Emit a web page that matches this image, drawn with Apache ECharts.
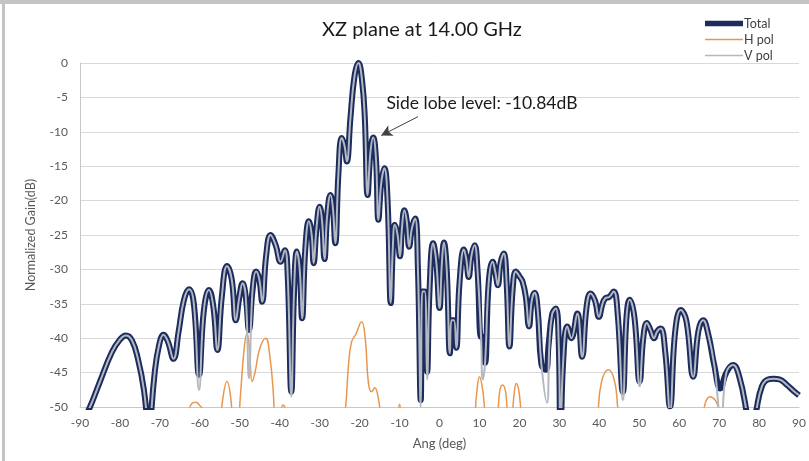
<!DOCTYPE html>
<html>
<head>
<meta charset="utf-8">
<script src="https://cdn.jsdelivr.net/npm/echarts@6/dist/echarts.min.js"></script>
<style>
  html, body { margin: 0; padding: 0; background: #fff; }
  #chart { width: 809px; height: 461px; }
</style>
</head>
<body>
<div id="chart"></div>
<script>
// Radiation pattern cut, XZ plane at 14 GHz: [angle (deg), normalized gain (dB)]
const totalGain = [
  [-90,-53],[-87.5,-50],[-85,-46.3],[-82,-42],[-80,-40.2],[-78.5,-39.6],[-77,-40.3],[-75.5,-43],[-74,-47.5],[-73.1,-53],[-72.8,-57],
  [-72.3,-52],[-71.3,-45],[-70.2,-41],[-69.1,-39.5],[-68,-40.5],[-66.6,-43],[-65.3,-39],[-64,-34.5],[-62.7,-32.9],[-61.5,-35],
  [-60.2,-45.3],[-59,-36],[-57.7,-33],[-56.6,-35.5],[-55.6,-41.7],[-54.5,-34],[-53.2,-29.5],[-52,-31.5],[-51,-37.4],[-50.1,-34],
  [-49.3,-32],[-48.5,-34],[-47.7,-38.8],[-46.8,-33],[-45.9,-30.3],[-45.1,-31.5],[-44.4,-34.7],[-43.4,-28],[-42.3,-25],[-41,-26.5],
  [-39.8,-28.9],[-38.7,-27.2],[-38,-31],[-37.1,-47.8],[-36.4,-33],[-35.7,-27.4],[-35,-30],[-34.4,-37.1],[-33.6,-27],[-32.7,-23],
  [-32,-25],[-31.5,-29.1],[-30.8,-24],[-30,-20.9],[-29.4,-23],[-28.8,-28.5],[-28.1,-22],[-27.3,-19.2],[-26.7,-21],[-26.1,-26.2],
  [-25.3,-16],[-24.5,-10.9],[-23.8,-12],[-23.2,-14.3],[-22.3,-8],[-21.3,-2],[-20.3,0],[-19.4,-2.5],[-18.7,-8],[-18,-19.2],
  [-17.3,-13],[-16.6,-10.84],[-15.9,-14],[-15.3,-22.8],[-14.6,-17.5],[-13.8,-15.3],[-13,-20],[-12.2,-34.9],[-11.7,-27],[-11.2,-23.5],
  [-10.5,-25],[-9.9,-28.1],[-9.4,-24],[-8.8,-21.4],[-8.2,-23],[-7.6,-26.7],[-6.9,-24],[-6.1,-22.6],[-5.4,-30],[-4.7,-49],
  [-4.3,-33.2],[-3.7,-33.2],[-3.1,-44.9],[-2.5,-33],[-1.6,-26.2],[-0.8,-29],[0,-35.6],[0.6,-29],[1.1,-26.1],[1.8,-30],
  [2.6,-42.2],[3.0,-37.4],[3.6,-37.4],[4.2,-41.4],[5,-32],[6.1,-27.1],[6.7,-28.5],[7.3,-31.1],[8,-28],[8.8,-26.5],
  [9.5,-30],[10.4,-39.8],[10.8,-39.8],[11.4,-43.6],[12.3,-32],[13.3,-28.9],[14,-30.5],[14.6,-32.3],[15.3,-29],[16.1,-27.7],
  [16.8,-32],[17.5,-41.2],[18.3,-33],[19.1,-30.3],[20,-31],[20.8,-31.8],[21.6,-34],[22.4,-38.3],[23.1,-34.5],[23.8,-33.4],
  [24.6,-36],[25.5,-43.8],[26.6,-44.6],[27.3,-41],[28.2,-36.5],[29.1,-35.7],[29.8,-40],[30.3,-55],[30.9,-44],[32,-38.3],
  [33,-40],[34.5,-36.4],[35.7,-42.7],[36.8,-35.5],[37.8,-33.5],[38.9,-34.5],[39.9,-36.9],[40.8,-35],[41.5,-34.2],[42.5,-34],
  [43.6,-33.2],[44.6,-36.5],[45.9,-47.8],[46.8,-37],[47.6,-34.4],[48.8,-37],[50.1,-46.3],[51,-40],[51.9,-37.8],[52.8,-38.8],
  [53.7,-40],[54.5,-39],[55.4,-38.6],[56.5,-42],[57.7,-49.9],[59,-39],[60.4,-35.9],[61.8,-37.5],[63.5,-45.6],[64.8,-39],
  [66,-37.4],[67.3,-39.5],[68.8,-44],[70.3,-47.3],[71.8,-45],[73.5,-43.9],[75,-45.5],[76.8,-50.5],[77.8,-55],[79.3,-50.5],
  [80.7,-47],[82.2,-46],[83.6,-45.9],[85.1,-46],[87,-46.8],[88.5,-47.6],[90,-48.3]
];

const hPolGain = [
  [-90,-62],[-66,-62],[-63,-51],[-62,-49.5],[-61,-49.3],[-60,-49.8],[-59.2,-50.5],[-58,-58],[-56,-60],[-55,-54],
  [-54.3,-49],[-53.2,-46.3],[-52.2,-49],[-51.5,-55],[-50.5,-53],[-49.8,-48],[-48.9,-41.5],[-48.2,-39.3],[-47.6,-41.5],[-46.9,-46.3],
  [-46.2,-45],[-45,-41.5],[-43.5,-40],[-42.5,-42.5],[-41.6,-48],[-41,-55],[-40,-52],[-39.2,-49.7],[-38.5,-50.5],[-37,-56],
  [-30,-60],[-25,-57],[-23.5,-50],[-22.8,-44],[-22,-40.5],[-21,-39.5],[-19.5,-37.6],[-18.6,-40],[-17.8,-46.5],[-17,-47.8],
  [-16.2,-47.2],[-15.4,-48.5],[-14.8,-51],[-14,-58],[-11,-55],[-10,-49.6],[-9,-55],[-5,-60],[5,-60],[8.6,-52],
  [9.3,-48],[10,-45.6],[10.8,-47.5],[11.4,-51],[12.5,-57],[14,-56],[15,-48],[15.8,-46.8],[16.6,-48],[17.3,-53],
  [18,-52],[18.7,-48],[19.2,-46.6],[19.9,-47.8],[20.6,-52],[22,-58],[30,-58],[31.5,-50.6],[32.5,-50.5],[33.5,-56],
  [38,-58],[39.5,-52],[40.5,-46.5],[42.3,-44.6],[43.8,-46.2],[44.6,-50],[46,-58],[60,-58],[65.5,-53],[66.5,-49.5],
  [67.7,-48.5],[69,-49],[70,-50.5],[71,-55],[90,-60]
];

const vPolGain = [
  [-90,-53],[-87.5,-50],[-85,-46.3],[-82,-42],[-80,-40.2],[-78.5,-39.6],[-77,-40.3],[-75.5,-43],[-74,-47.5],[-73.1,-53],[-72.8,-57],
  [-72.3,-52],[-71.3,-45],[-70.2,-41],[-69.1,-39.5],[-68,-40.5],[-66.6,-43],[-65.3,-39],[-64,-34.5],[-62.7,-32.9],[-61.5,-35],
  [-60.2,-47.5],[-59,-36],[-57.7,-33],[-56.6,-35.5],[-55.6,-41.7],[-54.5,-34],[-53.2,-29.5],[-52,-31.5],[-51,-37.4],[-50.1,-34],
  [-49.3,-32],[-48.5,-34],[-47.7,-45.8],[-46.8,-33],[-45.9,-30.3],[-45.1,-31.5],[-44.4,-34.7],[-43.4,-28],[-42.3,-25],[-41,-26.5],
  [-39.8,-28.9],[-38.7,-27.2],[-38,-31],[-37.1,-48.5],[-36.4,-33],[-35.7,-27.4],[-35,-30],[-34.4,-37.1],[-33.6,-27],[-32.7,-23],
  [-32,-25],[-31.5,-29.1],[-30.8,-24],[-30,-20.9],[-29.4,-23],[-28.8,-28.5],[-28.1,-22],[-27.3,-19.2],[-26.7,-21],[-26.1,-26.2],
  [-25.3,-16],[-24.5,-10.9],[-23.8,-12],[-23.2,-14.3],[-22.3,-8],[-21.3,-2],[-20.3,0],[-19.4,-2.5],[-18.7,-8],[-18,-19.2],
  [-17.3,-13],[-16.6,-10.84],[-15.9,-14],[-15.3,-22.8],[-14.6,-17.5],[-13.8,-15.3],[-13,-20],[-12.2,-34.9],[-11.7,-27],[-11.2,-23.5],
  [-10.5,-25],[-9.9,-28.1],[-9.4,-24],[-8.8,-21.4],[-8.2,-23],[-7.6,-26.7],[-6.9,-24],[-6.1,-22.6],[-5.4,-30],[-4.7,-50],
  [-4.3,-33.2],[-3.7,-33.2],[-3.1,-46],[-2.5,-33],[-1.6,-26.2],[-0.8,-29],[0,-35.6],[0.6,-29],[1.1,-26.1],[1.8,-30],
  [2.6,-42.2],[3.0,-37.4],[3.6,-37.4],[4.2,-41.4],[5,-32],[6.1,-27.1],[6.7,-28.5],[7.3,-31.1],[8,-28],[8.8,-26.5],
  [9.5,-30],[10.4,-39.8],[10.8,-46],[11.4,-43.6],[12.3,-32],[13.3,-28.9],[14,-30.5],[14.6,-32.3],[15.3,-29],[16.1,-27.7],
  [16.8,-32],[17.5,-41.2],[18.3,-33],[19.1,-30.3],[20,-31],[20.8,-31.8],[21.6,-34],[22.4,-38.3],[23.1,-34.5],[23.8,-33.4],
  [24.6,-36],[25.5,-43.8],[26.9,-49.4],[27.5,-41],[28.2,-36.5],[29.1,-35.7],[29.8,-40],[30.3,-55],[30.9,-44],[32,-38.3],
  [33,-40],[34.5,-36.4],[35.7,-42.7],[36.8,-35.5],[37.8,-33.5],[38.9,-34.5],[39.9,-36.9],[40.8,-35],[41.5,-34.2],[42.5,-34],
  [43.6,-33.2],[44.6,-36.5],[45.9,-49],[46.8,-37],[47.6,-34.4],[48.8,-37],[50.1,-47],[51,-40],[51.9,-37.8],[52.8,-38.8],
  [53.7,-40],[54.5,-39],[55.4,-38.6],[56.5,-42],[57.7,-50.5],[59,-39],[60.4,-35.9],[61.8,-37.5],[63.5,-45.6],[64.8,-39],
  [66,-37.4],[67.3,-39.5],[68.8,-44],[70.5,-52],[71.8,-45],[73.5,-43.9],[75,-45.5],[76.8,-50.5],[77.8,-55],[79.3,-50.5],
  [80.7,-47],[82.2,-46],[83.6,-45.9],[85.1,-46],[87,-46.8],[88.5,-47.6],[90,-48.3]
];

const angleTicks = { min: -90, max: 90, step: 10 };
const gainTicks = { min: -50, max: 0, step: 5 };

const sideLobeLevel = -10.84;
const sideLobeAngle = -16.6;

const FONT = 'Lato, "Open Sans", sans-serif';

// Legend swatches: a thick bar for the total pattern, thin strokes for the polarisations
const THICK_ICON = 'path://M0,0 M0,2.2 H40 V7.8 H0 Z M40,10';
const THIN_ICON = 'path://M0,0 M0,4.3 H40 V5.7 H0 Z M40,10';

const chart = echarts.init(document.getElementById('chart'), null, { renderer: 'canvas' });

chart.setOption({
  backgroundColor: '#ffffff',
  animation: false,
  graphic: [
    { type: 'rect', left: 0, top: 0, shape: { width: 809, height: 4 }, style: { fill: '#c4c4c4' }, z: 100 },
    { type: 'rect', left: 2, top: 0, shape: { width: 3, height: 461 }, style: { fill: '#c4c4c4' }, z: 100 }
  ],
  title: {
    text: 'XZ plane at 14.00 GHz',
    left: 317,
    top: 15,
    textStyle: { fontFamily: FONT, fontSize: 20, fontWeight: 'normal', color: '#1a1a1a' }
  },
  legend: {
    orient: 'vertical',
    left: 700,
    top: 12,
    itemWidth: 38,
    itemHeight: 10,
    itemGap: 3,
    symbolKeepAspect: false,
    textStyle: { fontFamily: FONT, fontSize: 12.5, color: '#404040', padding: [0, 0, 0, -4] },
    data: [
      { name: 'Total', icon: THICK_ICON },
      { name: 'H pol', icon: THIN_ICON },
      { name: 'V pol', icon: THIN_ICON }
    ]
  },
  grid: { left: 80, right: 6, top: 63, bottom: 54 },
  xAxis: {
    type: 'value',
    min: angleTicks.min,
    max: angleTicks.max,
    interval: angleTicks.step,
    name: 'Ang (deg)',
    nameLocation: 'middle',
    nameGap: 30,
    nameTextStyle: { fontFamily: FONT, fontSize: 13, color: '#595959' },
    axisLine: { show: true, onZero: false, lineStyle: { color: '#c8c8c8', width: 1 } },
    axisTick: { show: false },
    splitLine: { show: false },
    axisLabel: { fontFamily: FONT, fontSize: 12, color: '#595959', margin: 10 }
  },
  yAxis: {
    type: 'value',
    min: gainTicks.min,
    max: gainTicks.max,
    interval: gainTicks.step,
    name: 'Normalized Gain(dB)',
    nameLocation: 'middle',
    nameGap: 43,
    nameTextStyle: { fontFamily: FONT, fontSize: 12.5, color: '#595959' },
    axisLine: { show: true, onZero: false, lineStyle: { color: '#c8c8c8', width: 1 } },
    axisTick: { show: false },
    splitLine: { show: true, lineStyle: { color: '#d9d9d9', width: 1 } },
    axisLabel: { fontFamily: FONT, fontSize: 12, color: '#595959', margin: 12 }
  },
  series: [
    {
      name: 'Total',
      type: 'line',
      data: totalGain,
      smooth: 0.45,
      symbol: 'none',
      z: 2,
      lineStyle: { color: '#1c2c5e', width: 6 },
      itemStyle: { color: '#1c2c5e' },
      markLine: {
        silent: true,
        symbol: ['none', 'arrow'],
        symbolSize: [9, 11],
        label: { show: false },
        lineStyle: { color: '#404040', width: 1, type: 'solid' },
        data: [[{ coord: [-5.4, -7.8] }, { coord: [sideLobeAngle + 2.0, sideLobeLevel + 0.3] }]]
      },
      markPoint: {
        silent: true,
        symbol: 'circle',
        symbolSize: 0,
        data: [{ coord: [-13.3, -5.8] }],
        label: {
          show: true,
          position: 'right',
          distance: 0,
          formatter: 'Side lobe level: ' + sideLobeLevel.toFixed(2) + 'dB',
          fontFamily: FONT,
          fontSize: 17.5,
          color: '#1a1a1a'
        }
      }
    },
    {
      name: 'H pol',
      type: 'line',
      data: hPolGain,
      smooth: 0.45,
      symbol: 'none',
      z: 3,
      lineStyle: { color: '#e8974c', width: 1.5 },
      itemStyle: { color: '#e8974c' }
    },
    {
      name: 'V pol',
      type: 'line',
      data: vPolGain,
      smooth: 0.45,
      symbol: 'none',
      z: 4,
      lineStyle: { color: '#b4b8c0', width: 2 },
      itemStyle: { color: '#b4b8c0' }
    }
  ]
});
</script>
</body>
</html>
